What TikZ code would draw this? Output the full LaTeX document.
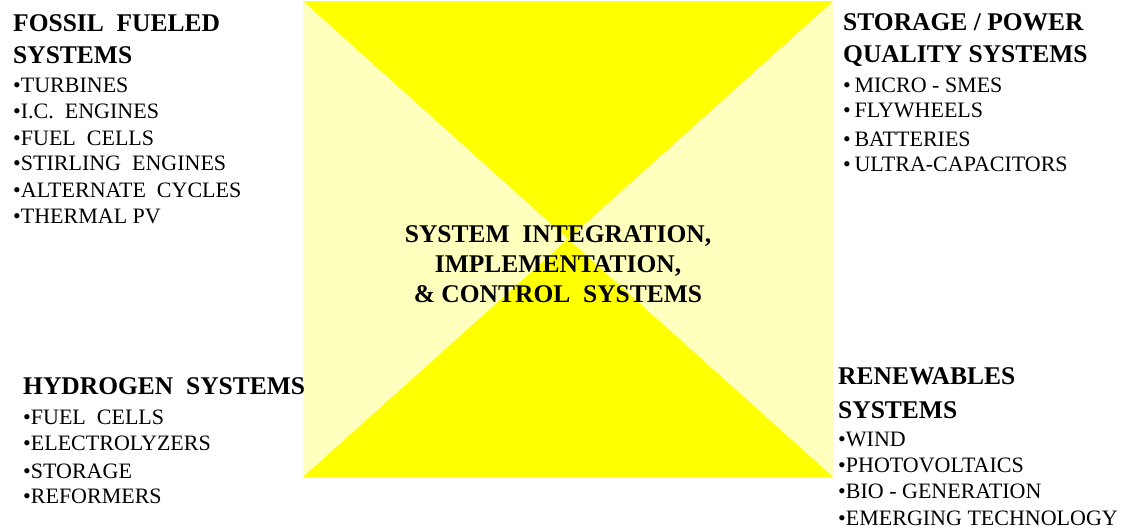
\documentclass[tikz,border=0pt]{standalone}
\usepackage{fontspec}
\setmainfont{Liberation Serif}
\definecolor{paleyellow}{RGB}{255,255,190}
\definecolor{brightyellow}{RGB}{255,255,0}
\begin{document}
\begin{tikzpicture}[x=1pt,y=-1pt,
  head/.style={anchor=base west,inner sep=0pt,font=\fontsize{25.5}{30}\selectfont\bfseries},
  item/.style={anchor=base west,inner sep=0pt,font=\fontsize{22}{26}\selectfont},
  center/.style={anchor=base,inner sep=0pt,font=\fontsize{25.5}{30}\selectfont\bfseries}]
\useasboundingbox (0,0) rectangle (1127,531);
% central square
\fill[paleyellow] (303,1) rectangle (833,477);
\fill[brightyellow] (303,1) -- (833,1) -- (568,239) -- cycle;
\fill[brightyellow] (303,477) -- (833,477) -- (568,239) -- cycle;
% center text
\node[center] (c1) at (558,242) {SYSTEM\ \ INTEGRATION,};
\node[center] (c2) at (558,272) {IMPLEMENTATION,};
\node[center] (c3) at (558,302) {\&\ CONTROL\ \ SYSTEMS};
% fossil
\node[head] (f1) at (13,31) {FOSSIL\ \ FUELED};
\node[head] (f2) at (13,63) {SYSTEMS};
\node[item] (f3) at (13,92) {•TURBINES};
\node[item] (f4) at (13,118) {•I.C.\ \ ENGINES};
\node[item] (f5) at (13,145) {•FUEL\ \ CELLS};
\node[item] (f6) at (13,170) {•STIRLING\ \ ENGINES};
\node[item] (f7) at (13,197) {•ALTERNATE\ \ CYCLES};
\node[item] (f8) at (13,223) {•THERMAL PV};
% storage
\node[head] (s1) at (843,30) {STORAGE / POWER};
\node[head] (s2) at (843,62) {QUALITY SYSTEMS};
\node[item] (s3) at (843,92) {•\,MICRO - SMES};
\node[item] (s4) at (843,117) {•\,FLYWHEELS};
\node[item] (s5) at (843,146) {•\,BATTERIES};
\node[item] (s6) at (843,171) {•\,ULTRA-CAPACITORS};
% hydrogen
\node[head] (h1) at (23,394) {HYDROGEN\ \ SYSTEMS};
\node[item] (h2) at (23,424) {•FUEL\ \ CELLS};
\node[item] (h3) at (23,450) {•ELECTROLYZERS};
\node[item] (h4) at (23,478) {•STORAGE};
\node[item] (h5) at (23,503) {•REFORMERS};
% renewables
\node[head] (r1) at (838,384) {RENEWABLES};
\node[head] (r2) at (838,418) {SYSTEMS};
\node[item] (r3) at (838,446) {•WIND};
\node[item] (r4) at (838,472) {•PHOTOVOLTAICS};
\node[item] (r5) at (838,498) {•BIO - GENERATION};
\node[item] (r6) at (838,525) {•EMERGING TECHNOLOGY};
\end{tikzpicture}
\end{document}
